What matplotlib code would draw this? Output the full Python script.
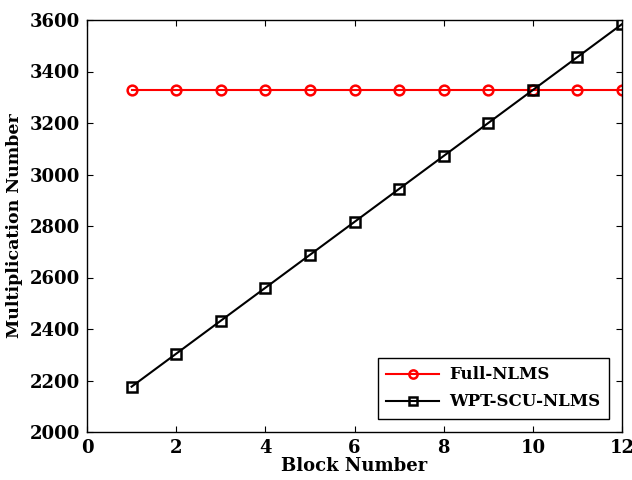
import matplotlib
matplotlib.use("Agg")
import matplotlib.pyplot as plt

blocks = [1, 2, 3, 4, 5, 6, 7, 8, 9, 10, 11, 12]
full_nlms = [3328] * 12
wpt_scu_nlms = [2176, 2304, 2432, 2560, 2688, 2816, 2944, 3072, 3200, 3328, 3456, 3584]
xticks = [0, 2, 4, 6, 8, 10, 12]
yticks = [2000, 2200, 2400, 2600, 2800, 3000, 3200, 3400, 3600]

plt.rcParams['font.family'] = ['DejaVu Serif']
plt.rcParams['font.weight'] = 'bold'

fig = plt.figure(figsize=(6.32, 4.8), dpi=100)
ax = fig.add_axes([87/632, 48/480, 535/632, 412/480])

ax.plot(blocks, full_nlms, color='red', lw=1.5, marker='o', ms=7,
        mfc='none', mec='red', mew=1.8, label='Full-NLMS')
ax.plot(blocks, wpt_scu_nlms, color='black', lw=1.5, marker='s', ms=7,
        mfc='none', mec='black', mew=1.8, label='WPT-SCU-NLMS')

ax.set_xlim(0, 12)
ax.set_ylim(2000, 3600)
ax.set_xticks(xticks)
ax.set_yticks(yticks)
ax.tick_params(direction='in', top=True, right=True, labelsize=13, length=4, width=0.8, pad=5)
for lab in ax.get_xticklabels() + ax.get_yticklabels():
    lab.set_fontweight('bold')
for s in ax.spines.values():
    s.set_linewidth(1.0)

ax.set_xlabel('Block Number', fontsize=13, fontweight='bold', labelpad=0)
ax.set_ylabel('Multiplication Number', fontsize=12.5, fontweight='bold', labelpad=5)

leg = ax.legend(loc='lower right', fontsize=12, fancybox=False, edgecolor='black',
                framealpha=1, handlelength=3.2, borderaxespad=0.8, borderpad=0.5,
                labelspacing=0.6, handletextpad=0.6, markerscale=0.85)
leg.get_frame().set_linewidth(1.0)
for t in leg.get_texts():
    t.set_fontweight('bold')

fig.savefig('out.png', dpi=100)
